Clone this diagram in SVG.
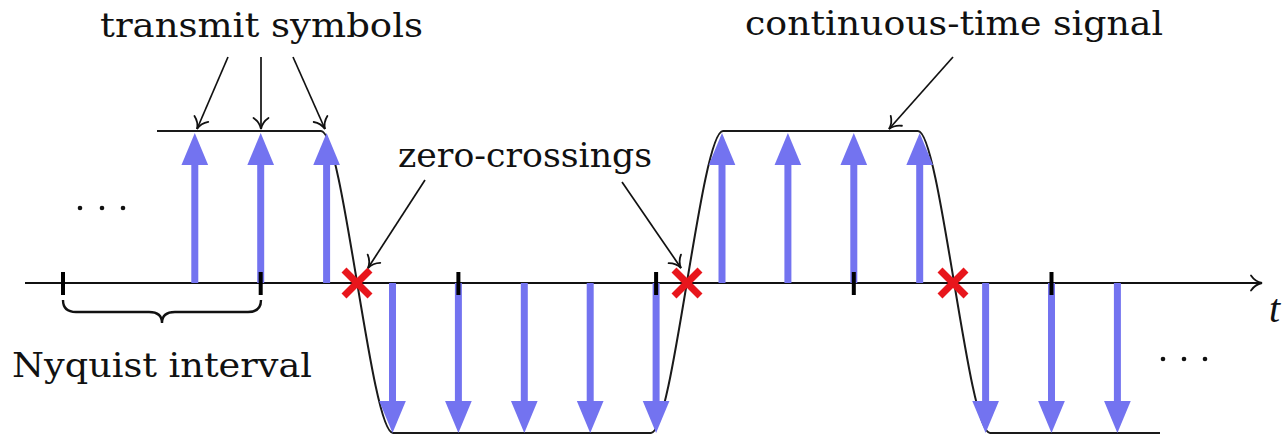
<svg xmlns="http://www.w3.org/2000/svg" width="1284" height="439" viewBox="0 0 1284 439">
<style>
  .lbl { font-family: "DejaVu Serif", "Liberation Serif", serif; font-size: 34px; fill: #111; }
  .ptr { stroke: #111; stroke-width: 1.7; fill: none; marker-end: url(#barb); }
  .stem { stroke: #7373f0; stroke-width: 7; fill: none; marker-end: url(#bhead); }
  .tick { fill: #000; }
  .sig { stroke: #1a1a1a; stroke-width: 2; fill: none; }
  .xm { stroke: #e8161c; stroke-width: 7; stroke-linecap: butt; }
  .dot { fill: #111; }
</style>
<defs>
  <marker id="barb" markerUnits="userSpaceOnUse" markerWidth="20" markerHeight="20" viewBox="-14 -10 16 20" refX="0" refY="0" orient="auto" overflow="visible">
    <path d="M-11,-7.5 C-8,-3 -3.5,-0.7 0,0 C-3.5,0.7 -8,3 -11,7.5" stroke="#111" stroke-width="1.8" fill="none" stroke-linecap="round"/>
  </marker>
  <marker id="bhead" markerUnits="userSpaceOnUse" markerWidth="32" markerHeight="28" viewBox="0 -13 30 26" refX="0" refY="0" orient="auto" overflow="visible">
    <path d="M0,-12.5 L30,0 L0,12.5 Z" fill="#7373f0"/>
  </marker>
</defs>

<g id="signal">
  <path class="sig" d="M157,131 H321 C343,131 371,433 393,433 H651 C673,433 701,131 723,131 H918 C940,131 968,433 990,433 H1160"/>
</g>

<g id="axis">
  <line x1="25" y1="283" x2="1262" y2="283" stroke="#111" stroke-width="2" marker-end="url(#barb)"/>
  <text x="1269" y="322" font-family="Liberation Serif, Times New Roman, serif" font-style="italic" font-size="40" fill="#111">t</text>
</g>

<g id="symbols">
  <line class="stem" x1="194.8" y1="283" x2="194.8" y2="165"/>
  <line class="stem" x1="260.7" y1="283" x2="260.7" y2="165"/>
  <line class="stem" x1="326.6" y1="283" x2="326.6" y2="165"/>
  <line class="stem" x1="392.5" y1="283" x2="392.5" y2="401"/>
  <line class="stem" x1="458.4" y1="283" x2="458.4" y2="401"/>
  <line class="stem" x1="524.3" y1="283" x2="524.3" y2="401"/>
  <line class="stem" x1="590.2" y1="283" x2="590.2" y2="401"/>
  <line class="stem" x1="656.1" y1="283" x2="656.1" y2="401"/>
  <line class="stem" x1="722" y1="283" x2="722" y2="165"/>
  <line class="stem" x1="787.9" y1="283" x2="787.9" y2="165"/>
  <line class="stem" x1="853.8" y1="283" x2="853.8" y2="165"/>
  <line class="stem" x1="919.7" y1="283" x2="919.7" y2="165"/>
  <line class="stem" x1="985.6" y1="283" x2="985.6" y2="401"/>
  <line class="stem" x1="1051.5" y1="283" x2="1051.5" y2="401"/>
  <line class="stem" x1="1117.4" y1="283" x2="1117.4" y2="401"/>
</g>

<g id="ticks">
  <rect class="tick" x="61" y="272" width="4" height="23"/>
  <rect class="tick" x="258.7" y="272" width="4" height="23"/>
  <rect class="tick" x="456.4" y="272" width="4" height="23"/>
  <rect class="tick" x="654.1" y="272" width="4" height="23"/>
  <rect class="tick" x="851.8" y="272" width="4" height="23"/>
  <rect class="tick" x="1049.5" y="272" width="4" height="23"/>
</g>

<g id="zero-crossings">
  <path class="xm" d="M344,270 L370,296 M370,270 L344,296"/>
  <path class="xm" d="M674,270 L700,296 M700,270 L674,296"/>
  <path class="xm" d="M940,270 L966,296 M966,270 L940,296"/>
</g>

<g id="nyquist-brace">
  <path d="M63,300 Q63,312 76,312 H149 Q162,312 162,323 Q162,312 175,312 H248 Q261,312 261,300" stroke="#111" stroke-width="2.4" fill="none"/>
  <text class="lbl" x="12" y="377" textLength="300" lengthAdjust="spacingAndGlyphs">Nyquist interval</text>
</g>

<g id="dots">
  <circle class="dot" cx="80" cy="208" r="2.3"/>
  <circle class="dot" cx="102" cy="208" r="2.3"/>
  <circle class="dot" cx="123" cy="208" r="2.3"/>
  <circle class="dot" cx="1163" cy="359" r="2.3"/>
  <circle class="dot" cx="1184" cy="359" r="2.3"/>
  <circle class="dot" cx="1205" cy="359" r="2.3"/>
</g>

<g id="label-transmit">
  <text class="lbl" x="100" y="37" textLength="323" lengthAdjust="spacingAndGlyphs">transmit symbols</text>
</g>
<g id="label-zero">
  <text class="lbl" x="398" y="167" textLength="254" lengthAdjust="spacingAndGlyphs">zero-crossings</text>
</g>
<g id="label-signal">
  <text class="lbl" x="745" y="35" textLength="418" lengthAdjust="spacingAndGlyphs">continuous-time signal</text>
</g>

<g id="connectors">
  <line class="ptr" x1="228" y1="57" x2="197" y2="129"/>
  <line class="ptr" x1="261" y1="57" x2="261" y2="129"/>
  <line class="ptr" x1="293" y1="57" x2="325" y2="129"/>
  <line class="ptr" x1="425" y1="180" x2="368" y2="268"/>
  <line class="ptr" x1="622" y1="182" x2="681" y2="268"/>
  <line class="ptr" x1="953" y1="57" x2="889" y2="129"/>
</g>
</svg>
